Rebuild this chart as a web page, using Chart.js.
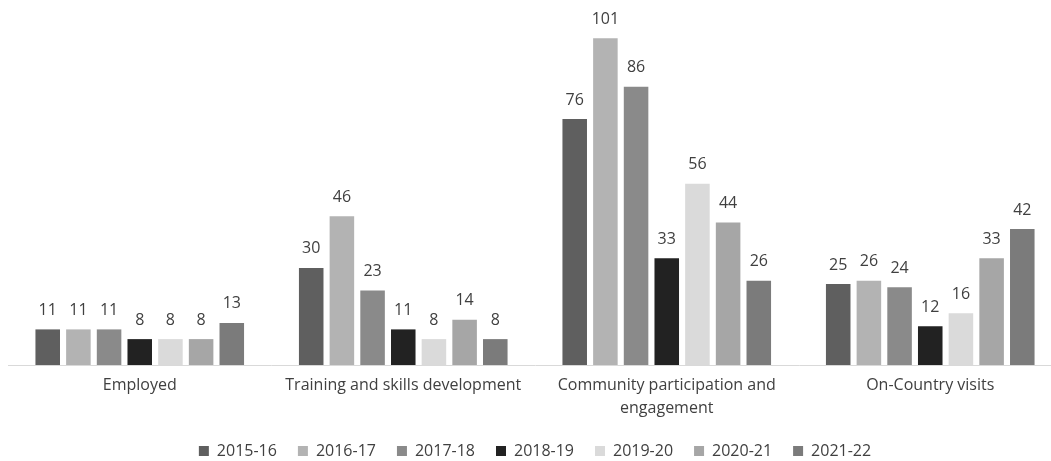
<!DOCTYPE html>
<html>
<head>
<meta charset="utf-8">
<script src="https://cdn.jsdelivr.net/npm/chart.js@4/dist/chart.umd.min.js"></script>
<style>
  html, body { margin: 0; padding: 0; background: #ffffff; overflow: hidden; }
  #wrap { width: 1051px; height: 461px; position: relative; overflow: hidden; }
  #chart { display: block; }
</style>
</head>
<body>
<div id="wrap"><canvas id="chart" width="1062" height="461"></canvas></div>
<script>
// Participation counts by activity type and financial year
const categories = [
  'Employed',
  'Training and skills development',
  ['Community participation and', 'engagement'],
  'On-Country visits'
];
const years = ['2015-16', '2016-17', '2017-18', '2018-19', '2019-20', '2020-21', '2021-22'];
const fy201516 = [11, 30, 76, 25];
const fy201617 = [11, 46, 101, 26];
const fy201718 = [11, 23, 86, 24];
const fy201819 = [8, 11, 33, 12];
const fy201920 = [8, 8, 56, 16];
const fy202021 = [8, 14, 44, 33];
const fy202122 = [13, 8, 26, 42];

const seriesValues = [fy201516, fy201617, fy201718, fy201819, fy201920, fy202021, fy202122];
const seriesColors = ['#5f5f5f', '#b3b3b3', '#8a8a8a', '#222222', '#dadada', '#a6a6a6', '#7b7b7b'];

const FONT = '"Open Sans", "Noto Sans", sans-serif';
const TEXT = '#404040';

// Writes each bar's value just above its top
const valueLabels = {
  id: 'valueLabels',
  afterDatasetsDraw(chart) {
    const ctx = chart.ctx;
    ctx.save();
    ctx.font = '16px ' + FONT;
    ctx.fillStyle = TEXT;
    ctx.textAlign = 'center';
    ctx.textBaseline = 'middle';
    chart.data.datasets.forEach((ds, i) => {
      const meta = chart.getDatasetMeta(i);
      meta.data.forEach((bar, j) => {
        ctx.fillText(String(ds.data[j]), bar.x, bar.y - 19);
      });
    });
    ctx.restore();
  }
};

// Keeps the legend strip compact while leaving wide gaps between its entries
const compactLegend = {
  id: 'compactLegend',
  afterInit(chart) {
    const legend = chart.legend;
    if (!legend) return;
    const fit = legend.fit;
    legend.fit = function () {
      fit.call(this);
      this.height = 39;
    };
  }
};

new Chart(document.getElementById('chart'), {
  type: 'bar',
  data: {
    labels: categories,
    datasets: years.map((y, i) => ({
      label: y,
      data: seriesValues[i],
      backgroundColor: seriesColors[i],
      borderWidth: 0,
      categoryPercentage: 0.815,
      barPercentage: 0.8
    }))
  },
  options: {
    responsive: false,
    animation: false,
    layout: { padding: { left: 8, right: 0, top: 9, bottom: 0 } },
    scales: {
      x: {
        grid: { display: false, drawTicks: false },
        border: { color: '#d9d9d9', width: 1 },
        ticks: {
          color: TEXT,
          font: { family: FONT, size: 16, lineHeight: 1.4375 },
          padding: 9,
          maxRotation: 0,
          autoSkip: false
        },
        afterFit(scale) {
          scale.height = 57;
        }
      },
      y: {
        display: false,
        min: 0,
        max: 110
      }
    },
    plugins: {
      legend: {
        position: 'bottom',
        labels: {
          color: TEXT,
          font: { family: FONT, size: 16 },
          boxWidth: 10,
          boxHeight: 10,
          padding: 21
        }
      },
      tooltip: { enabled: false }
    }
  },
  plugins: [valueLabels, compactLegend]
});
</script>
</body>
</html>
